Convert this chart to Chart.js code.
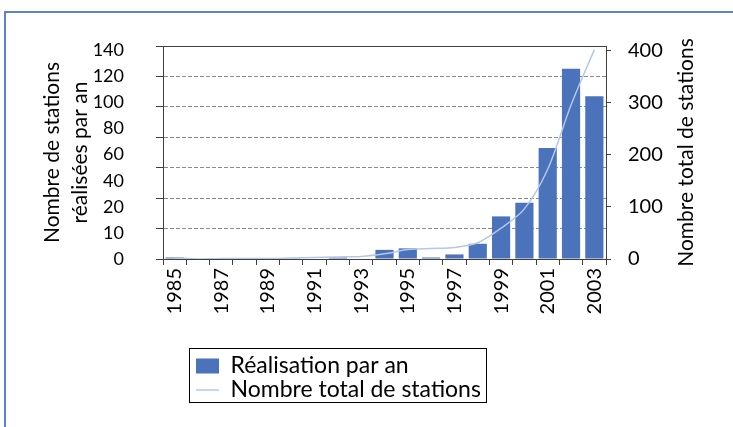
<!DOCTYPE html>
<html><head><meta charset="utf-8">
<script src="https://cdn.jsdelivr.net/npm/chart.js@4/dist/chart.umd.min.js"></script>
<style>
html,body{margin:0;padding:0;background:#fff;}
#wrap{position:relative;width:733px;height:427px;overflow:hidden;}
#frame{position:absolute;left:4px;top:11px;width:800px;height:500px;border-left:2px solid #5b84c8;border-top:2px solid #5b84c8;}
canvas{position:absolute;left:0;top:0;}
</style></head><body>
<div id="wrap"><div id="frame"></div><canvas id="c" width="733" height="427"></canvas></div>
<script>
const YEARS = ['1985','1986','1987','1988','1989','1990','1991','1992','1993','1994','1995','1996','1997','1998','1999','2000','2001','2002','2003'];
const SHOWN_YEAR_LABELS = ['1985','1987','1989','1991','1993','1995','1997','1999','2001','2003'];
const STATIONS_PER_YEAR = [1,0,0.5,0,0,0.5,0,1,0,6,7,1,3,10,28,37,73,125,107];
const TOTAL_STATIONS = [2,0,1,1,1,2,3,4,5,10,18,20,22,31,59,96,172,295,401];
const LEFT_TICK_LABELS = ['0','10','20','40','60','80','100','120','140'];
const RIGHT_TICKS = [0,100,200,300,400];
const SERIES_NAMES = ['Réalisation par an','Nombre total de stations'];
const LEFT_TITLE = ['Nombre de stations','réalisées par an'];
const RIGHT_TITLE = 'Nombre total de stations';

Chart.defaults.font.family = 'Lato';
Chart.defaults.color = '#000';

const AXIS_DARK = '#404040';
const isEdge = c => c.tick && (c.tick.value === 0 || c.tick.value === 140);

const legendPlacer = {
  id: 'legendPlacer',
  afterInit(chart) {
    const lg = chart.legend;
    const orig = lg.fit;
    lg.fit = function () { orig.call(this); this.height = 40; };
  },
  afterLayout(chart) {
    const lg = chart.legend;
    const pad = lg.options.labels.padding;
    lg.left = 196 - pad; lg.right = 487;
    lg.top = 354.5 - pad; lg.bottom = 403;
    lg.width = lg.right - lg.left; lg.height = lg.bottom - lg.top;
  },
  afterDraw(chart) {
    const ctx = chart.ctx;
    ctx.save();
    ctx.strokeStyle = '#000';
    ctx.lineWidth = 1;
    ctx.strokeRect(189.5, 348.5, 297, 54);
    // right axis title, reading bottom-to-top like the reference
    const s = chart.scales.y2;
    ctx.translate(s.right - 14, (s.top + s.bottom) / 2);
    ctx.rotate(-Math.PI / 2);
    ctx.fillStyle = '#000';
    ctx.font = '21px Lato';
    ctx.textAlign = 'center';
    ctx.textBaseline = 'middle';
    ctx.fillText(RIGHT_TITLE, 0, 0);
    ctx.restore();
  }
};

new Chart(document.getElementById('c'), {
  data: {
    labels: YEARS,
    datasets: [
      {
        type: 'bar', label: SERIES_NAMES[0], data: STATIONS_PER_YEAR, yAxisID: 'y',
        backgroundColor: '#4b73bb', borderWidth: 0, order: 1, pointStyle: 'rect',
        barPercentage: 0.78, categoryPercentage: 1
      },
      {
        type: 'line', label: SERIES_NAMES[1], data: TOTAL_STATIONS, yAxisID: 'y2',
        borderColor: '#b4c7e7', backgroundColor: '#b4c7e7', borderWidth: 1.5,
        pointRadius: 0, tension: 0.3, order: 0, pointStyle: 'line'
      }
    ]
  },
  options: {
    responsive: false,
    animation: false,
    layout: { padding: { left: 38, right: 33, top: 46, bottom: 63 } },
    plugins: {
      tooltip: { enabled: false },
      legend: {
        position: 'bottom', align: 'start',
        labels: {
          usePointStyle: true, pointStyleWidth: 23, boxHeight: 15, padding: 1,
          font: { size: 23 }, color: '#000',
          sort: (a, b) => a.datasetIndex - b.datasetIndex
        }
      }
    },
    scales: {
      x: {
        type: 'category', offset: true,
        grid: { offset: true, drawOnChartArea: false, tickLength: 6, color: AXIS_DARK, tickColor: AXIS_DARK },
        border: { color: AXIS_DARK },
        ticks: {
          autoSkip: false, minRotation: 90, maxRotation: 90, padding: 3,
          font: { size: 20 }, color: '#000',
          callback: (v, i) => SHOWN_YEAR_LABELS.includes(YEARS[i]) ? YEARS[i] : ''
        },
        afterFit: s => { s.height = 65; }
      },
      y: {
        type: 'linear', position: 'left', weight: 0, min: 0, max: 140,
        grid: {
          color: c => isEdge(c) ? AXIS_DARK : '#8a8a8a',
          tickColor: AXIS_DARK, tickLength: 7
        },
        border: { color: AXIS_DARK, dash: c => isEdge(c) ? [] : [4, 2] },
        ticks: { display: false, stepSize: 20, includeBounds: false },
        afterFit: s => { s.width = 8; }
      },
      yL: {
        type: 'linear', position: 'left', weight: 1, min: 0, max: 408,
        grid: { display: false }, border: { display: false },
        afterBuildTicks: s => { s.ticks = LEFT_TICK_LABELS.map((t, i) => ({ value: RIGHT_TICKS[1] / 2 * i })); },
        ticks: {
          autoSkip: false, padding: 23,
          font: { size: 18 }, color: '#000',
          callback: (v, i) => LEFT_TICK_LABELS[i]
        },
        title: { display: true, text: LEFT_TITLE, font: { size: 21, lineHeight: 1.35 }, color: '#000', padding: 0 },
        afterFit: s => { s.width = 117; }
      },
      y2: {
        type: 'linear', position: 'right', min: 0, max: 408,
        grid: { drawOnChartArea: false, tickLength: 5, tickColor: AXIS_DARK },
        border: { color: AXIS_DARK },
        afterBuildTicks: s => { s.ticks = RIGHT_TICKS.map(v => ({ value: v })); },
        ticks: { autoSkip: false, padding: 17, font: { size: 20 }, color: '#000' },
        title: { display: false },
        afterFit: s => { s.width = 94; }
      }
    }
  },
  plugins: [legendPlacer]
});
</script>
</body></html>
